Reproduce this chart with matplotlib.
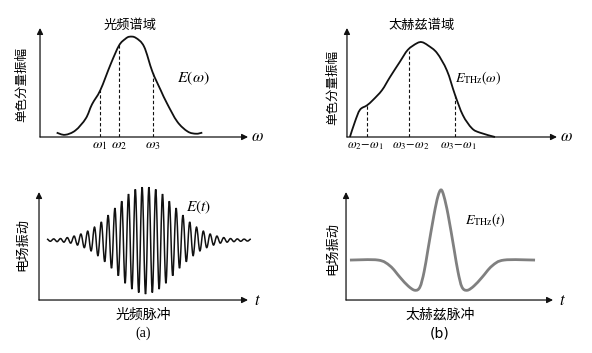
import numpy as np
import matplotlib
matplotlib.use("Agg")
import matplotlib.pyplot as plt
from matplotlib.path import Path
from matplotlib.patches import PathPatch

plt.rcParams['font.family'] = ['Noto Sans CJK SC', 'DejaVu Sans']
plt.rcParams['mathtext.fontset'] = 'stix'

# optical spectrum (a, top)
spec_a_x = [0.8, 1.2, 1.7, 2.2, 2.5, 2.9, 3.4, 3.8, 4.1, 4.3, 4.6, 5.0, 5.4, 5.8, 6.1, 6.6, 7.1, 7.5, 7.8]
spec_a_y = [0.04, 0.02, 0.06, 0.17, 0.30, 0.43, 0.67, 0.84, 0.90, 0.92, 0.91, 0.83, 0.60, 0.43, 0.31, 0.14, 0.05, 0.03, 0.04]
mark_a_x = [2.88, 3.80, 5.43]
mark_a_y = [0.43, 0.84, 0.60]
mark_a_lbl = [r'$\omega_1$', r'$\omega_2$', r'$\omega_3$']

# THz spectrum (b, top)
spec_b_x = [0.14, 0.38, 0.62, 0.95, 1.24, 1.67, 2.05, 2.52, 2.90, 3.33, 3.57, 3.86, 4.29, 4.76, 5.14, 5.52, 5.95, 6.33, 7.05]
spec_b_y = [0.0, 0.14, 0.25, 0.29, 0.34, 0.43, 0.55, 0.69, 0.80, 0.86, 0.87, 0.84, 0.77, 0.61, 0.39, 0.20, 0.08, 0.04, 0.0]
mark_b_x = [0.95, 2.95, 5.14]
mark_b_y = [0.29, 0.79, 0.39]
mark_b_lbl = [r'$\omega_2\!-\!\omega_1$', r'$\omega_3\!-\!\omega_2$', r'$\omega_3\!-\!\omega_1$']

# optical pulse (a, bottom): signed extrema of the carrier, left to right
osc_base = 0.555
osc_start = 0.378
osc_half = 0.1627
osc_ext = [0.009, -0.011, 0.011, -0.014, 0.014, -0.019, 0.023, -0.028, 0.037, -0.046,
           0.056, -0.07, 0.083, -0.10, 0.12, -0.144, 0.167, -0.20, 0.23, -0.26,
           0.296, -0.33, 0.36, -0.40, 0.426, -0.454, 0.47, -0.486, 0.49, -0.50,
           0.49, -0.486, 0.47, -0.454, 0.426, -0.40, 0.36, -0.33, 0.296, -0.26,
           0.23, -0.20, 0.167, -0.144, 0.12, -0.10, 0.083, -0.07, 0.056, -0.046,
           0.037, -0.028, 0.023, -0.019, 0.014, -0.014, 0.011, -0.011, 0.009, -0.009, 0.009]

# THz pulse (b, bottom)
thz_x = [0.19, 1.55, 2.13, 2.61, 3.00, 3.33, 3.57, 3.77, 3.96, 4.25, 4.44, 4.59, 4.73, 4.93,
         5.22, 5.41, 5.60, 5.85, 6.18, 6.57, 7.05, 7.63, 9.13]
thz_y = [0.37, 0.37, 0.315, 0.21, 0.13, 0.09, 0.12, 0.26, 0.47, 0.79, 0.96, 1.02, 0.96, 0.79,
         0.47, 0.26, 0.12, 0.09, 0.13, 0.21, 0.315, 0.37, 0.37]


def smooth_path(x, y):
    pts = np.column_stack([x, y]).astype(float)
    verts = [pts[0]]
    codes = [Path.MOVETO]
    n = len(pts)
    for i in range(n - 1):
        p0 = pts[i - 1] if i > 0 else pts[i]
        p1 = pts[i]
        p2 = pts[i + 1]
        p3 = pts[i + 2] if i + 2 < n else p2
        verts += [p1 + (p2 - p0) / 6, p2 - (p3 - p1) / 6, p2]
        codes += [Path.CURVE4] * 3
    return Path(verts, codes)


def wave_path(x, y):
    # half-cycles between extrema with flat tangents
    verts = [(x[0], y[0])]
    codes = [Path.MOVETO]
    for i in range(len(x) - 1):
        d = x[i + 1] - x[i]
        verts += [(x[i] + 0.3634 * d, y[i]), (x[i + 1] - 0.3634 * d, y[i + 1]), (x[i + 1], y[i + 1])]
        codes += [Path.CURVE4] * 3
    return Path(verts, codes)


def setup(rect, xlabel):
    ax = fig.add_axes(rect)
    ax.set_xlim(0, 10)
    ax.set_ylim(0, 1)
    ax.axis('off')
    arrow = dict(arrowstyle='-|>', mutation_scale=9, lw=0.9, color='#111111', shrinkA=0, shrinkB=0)
    ax.annotate('', xy=(0, 1), xytext=(0, 0), xycoords='axes fraction', arrowprops=arrow)
    ax.annotate('', xy=(1, 0), xytext=(0, 0), xycoords='axes fraction', arrowprops=arrow)
    ax.text(1.045, 0, xlabel, transform=ax.transAxes, fontsize=12, ha='center', va='center')
    return ax


fig = plt.figure(figsize=(5.92, 3.53), dpi=100)

# (a) top
ax = setup([0.0676, 0.6119, 0.3514, 0.3088], r'$\omega$')
ax.add_patch(PathPatch(smooth_path(spec_a_x, spec_a_y), fill=False, lw=1.3, ec='#111111', clip_on=False))
ax.vlines(mark_a_x, 0, mark_a_y, colors='#111111', lw=0.8, linestyles=(0, (3, 2)))
for x, s in zip(mark_a_x, mark_a_lbl):
    ax.text(x, -0.075, s, fontsize=10, ha='center', va='center')
ax.text(7.35, 0.54, r'$E(\omega)$', fontsize=11.5, ha='center', va='center')
ax.text(0.433, 1.02, '光频谱域', transform=ax.transAxes, fontsize=9.5, ha='center', va='center')
ax.text(-0.087, 0.48, '单色分量振幅', transform=ax.transAxes, fontsize=9, rotation=90, ha='center', va='center')

# (b) top
ax = setup([0.5861, 0.6119, 0.3547, 0.3088], r'$\omega$')
ax.add_patch(PathPatch(smooth_path(spec_b_x, spec_b_y), fill=False, lw=1.3, ec='#111111', clip_on=False))
ax.vlines(mark_b_x, 0, mark_b_y, colors='#111111', lw=0.8, linestyles=(0, (3, 2)))
for x, s in zip([0.90, 3.05, 5.29], mark_b_lbl):
    ax.text(x, -0.075, s, fontsize=9, ha='center', va='center')
ax.text(6.24, 0.54, r'$E_{\mathrm{THz}}(\omega)$', fontsize=10, ha='center', va='center')
ax.text(0.357, 1.02, '太赫兹谱域', transform=ax.transAxes, fontsize=9.5, ha='center', va='center')
ax.text(-0.067, 0.45, '单色分量振幅', transform=ax.transAxes, fontsize=9, rotation=90, ha='center', va='center')

# (a) bottom
ax = setup([0.0659, 0.1501, 0.3530, 0.3059], r'$t$')
ox = [osc_start + i * osc_half for i in range(len(osc_ext))]
oy = [osc_base + v for v in osc_ext]
ax.add_patch(PathPatch(wave_path(ox, oy), fill=False, lw=1.1, ec='#111111', clip_on=False))
ax.text(0.763, 0.86, r'$E(t)$', transform=ax.transAxes, fontsize=11, ha='center', va='center')
ax.text(-0.077, 0.51, '电场振动', transform=ax.transAxes, fontsize=9.5, rotation=90, ha='center', va='center')
ax.text(0.498, -0.139, '光频脉冲', transform=ax.transAxes, fontsize=10, ha='center', va='center')
ax.text(0.498, -0.306, '(a)', transform=ax.transAxes, fontsize=10, family='Liberation Serif', ha='center', va='center')

# (b) bottom
ax = setup([0.5845, 0.1501, 0.3497, 0.3059], r'$t$')
ax.add_patch(PathPatch(smooth_path(thz_x, thz_y), fill=False, lw=2.0, ec='#808080', clip_on=False))
ax.text(0.672, 0.74, r'$E_{\mathrm{THz}}(t)$', transform=ax.transAxes, fontsize=10, ha='center', va='center')
ax.text(-0.063, 0.48, '电场振动', transform=ax.transAxes, fontsize=9.5, rotation=90, ha='center', va='center')
ax.text(0.454, -0.139, '太赫兹脉冲', transform=ax.transAxes, fontsize=10, ha='center', va='center')
ax.text(0.454, -0.306, '(b)', transform=ax.transAxes, fontsize=10, family='DejaVu Sans', ha='center', va='center')

fig.savefig('out.png', dpi=100, facecolor='white')
